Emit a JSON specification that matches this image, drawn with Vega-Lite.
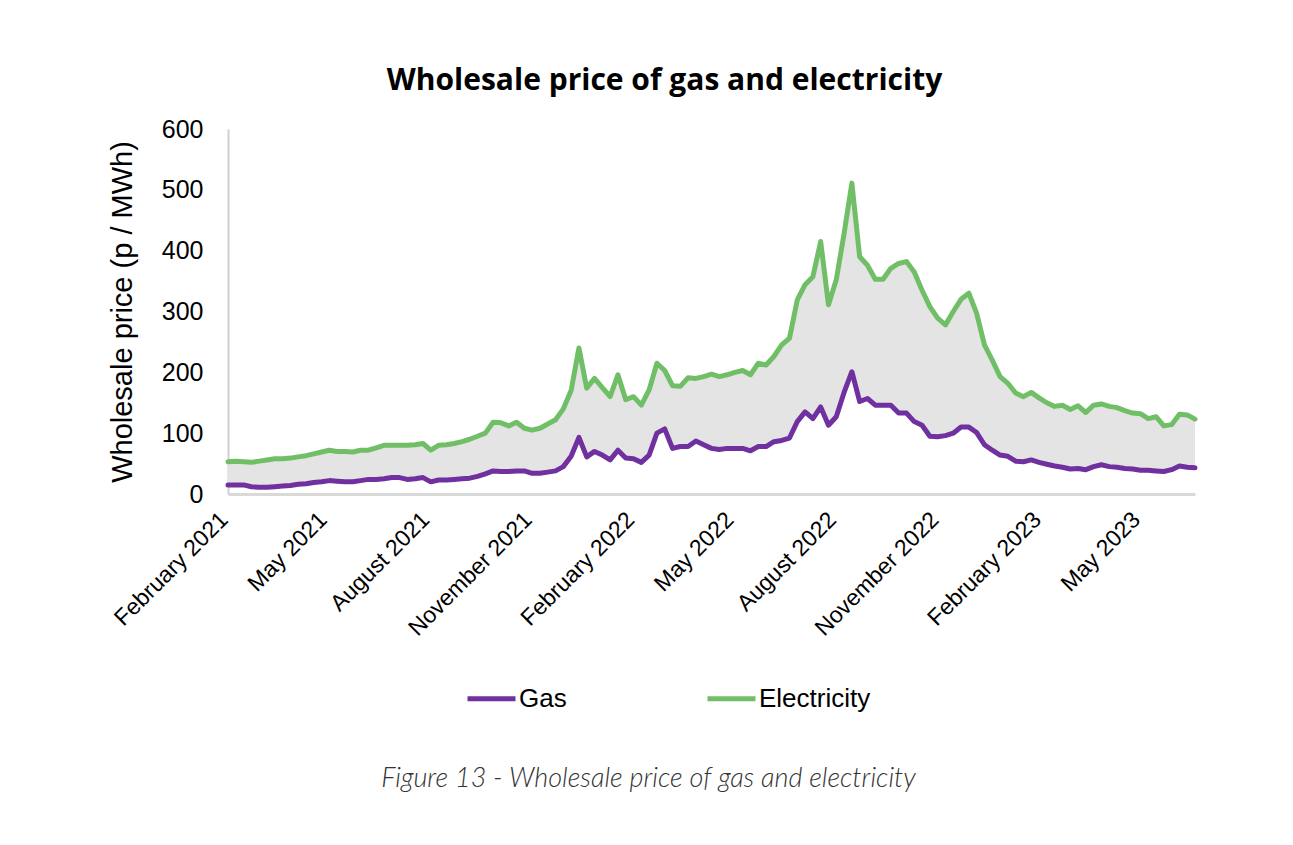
{
  "$schema": "https://vega.github.io/schema/vega-lite/v6.json",
  "width": 967,
  "height": 365,
  "autosize": {"type": "none"},
  "padding": {"left": 228, "top": 129, "right": 98, "bottom": 351},
  "background": "white",
  "title": {
    "text": "Wholesale price of gas and electricity",
    "font": "Open Sans",
    "fontSize": 30,
    "fontWeight": "bold",
    "color": "#000000",
    "anchor": "middle",
    "dx": -47,
    "offset": 21
  },
  "data": {
    "values": [
      {"date":"2021-02-01","Gas":15,"Electricity":53},
      {"date":"2021-02-08","Gas":15,"Electricity":54},
      {"date":"2021-02-15","Gas":15,"Electricity":53},
      {"date":"2021-02-22","Gas":12,"Electricity":52},
      {"date":"2021-03-01","Gas":11,"Electricity":54},
      {"date":"2021-03-08","Gas":11,"Electricity":56},
      {"date":"2021-03-15","Gas":12,"Electricity":58},
      {"date":"2021-03-22","Gas":13,"Electricity":58},
      {"date":"2021-03-29","Gas":14,"Electricity":59},
      {"date":"2021-04-05","Gas":16,"Electricity":61},
      {"date":"2021-04-12","Gas":17,"Electricity":63},
      {"date":"2021-04-19","Gas":19,"Electricity":66},
      {"date":"2021-04-26","Gas":20,"Electricity":69},
      {"date":"2021-05-03","Gas":22,"Electricity":72},
      {"date":"2021-05-10","Gas":21,"Electricity":70},
      {"date":"2021-05-17","Gas":20,"Electricity":70},
      {"date":"2021-05-24","Gas":20,"Electricity":69},
      {"date":"2021-05-31","Gas":22,"Electricity":72},
      {"date":"2021-06-07","Gas":24,"Electricity":72},
      {"date":"2021-06-14","Gas":24,"Electricity":76},
      {"date":"2021-06-21","Gas":25,"Electricity":80},
      {"date":"2021-06-28","Gas":27,"Electricity":80},
      {"date":"2021-07-05","Gas":27,"Electricity":80},
      {"date":"2021-07-12","Gas":24,"Electricity":80},
      {"date":"2021-07-19","Gas":25,"Electricity":81},
      {"date":"2021-07-26","Gas":27,"Electricity":83},
      {"date":"2021-08-02","Gas":20,"Electricity":72},
      {"date":"2021-08-09","Gas":23,"Electricity":80},
      {"date":"2021-08-16","Gas":23,"Electricity":81},
      {"date":"2021-08-23","Gas":24,"Electricity":83},
      {"date":"2021-08-30","Gas":25,"Electricity":86},
      {"date":"2021-09-06","Gas":26,"Electricity":90},
      {"date":"2021-09-13","Gas":29,"Electricity":95},
      {"date":"2021-09-20","Gas":33,"Electricity":100},
      {"date":"2021-09-27","Gas":38,"Electricity":118},
      {"date":"2021-10-04","Gas":37,"Electricity":117},
      {"date":"2021-10-11","Gas":37,"Electricity":112},
      {"date":"2021-10-18","Gas":38,"Electricity":118},
      {"date":"2021-10-25","Gas":38,"Electricity":108},
      {"date":"2021-11-01","Gas":34,"Electricity":105},
      {"date":"2021-11-08","Gas":34,"Electricity":108},
      {"date":"2021-11-15","Gas":36,"Electricity":115},
      {"date":"2021-11-22","Gas":38,"Electricity":122},
      {"date":"2021-11-29","Gas":45,"Electricity":140},
      {"date":"2021-12-06","Gas":62,"Electricity":170},
      {"date":"2021-12-13","Gas":93,"Electricity":240},
      {"date":"2021-12-20","Gas":61,"Electricity":174},
      {"date":"2021-12-27","Gas":70,"Electricity":190},
      {"date":"2022-01-03","Gas":64,"Electricity":175},
      {"date":"2022-01-10","Gas":56,"Electricity":160},
      {"date":"2022-01-17","Gas":72,"Electricity":196},
      {"date":"2022-01-24","Gas":59,"Electricity":155},
      {"date":"2022-01-31","Gas":58,"Electricity":160},
      {"date":"2022-02-07","Gas":52,"Electricity":146},
      {"date":"2022-02-14","Gas":64,"Electricity":171},
      {"date":"2022-02-21","Gas":100,"Electricity":215},
      {"date":"2022-02-28","Gas":107,"Electricity":203},
      {"date":"2022-03-07","Gas":75,"Electricity":178},
      {"date":"2022-03-14","Gas":78,"Electricity":177},
      {"date":"2022-03-21","Gas":78,"Electricity":191},
      {"date":"2022-03-28","Gas":87,"Electricity":190},
      {"date":"2022-04-04","Gas":81,"Electricity":193},
      {"date":"2022-04-11","Gas":75,"Electricity":197},
      {"date":"2022-04-18","Gas":73,"Electricity":193},
      {"date":"2022-04-25","Gas":75,"Electricity":196},
      {"date":"2022-05-02","Gas":75,"Electricity":200},
      {"date":"2022-05-09","Gas":75,"Electricity":203},
      {"date":"2022-05-16","Gas":71,"Electricity":196},
      {"date":"2022-05-23","Gas":78,"Electricity":215},
      {"date":"2022-05-30","Gas":78,"Electricity":212},
      {"date":"2022-06-06","Gas":86,"Electricity":226},
      {"date":"2022-06-13","Gas":88,"Electricity":245},
      {"date":"2022-06-20","Gas":92,"Electricity":256},
      {"date":"2022-06-27","Gas":119,"Electricity":319},
      {"date":"2022-07-04","Gas":135,"Electricity":344},
      {"date":"2022-07-11","Gas":124,"Electricity":357},
      {"date":"2022-07-18","Gas":143,"Electricity":415},
      {"date":"2022-07-25","Gas":113,"Electricity":311},
      {"date":"2022-08-01","Gas":127,"Electricity":352},
      {"date":"2022-08-08","Gas":167,"Electricity":428},
      {"date":"2022-08-15","Gas":201,"Electricity":511},
      {"date":"2022-08-22","Gas":152,"Electricity":390},
      {"date":"2022-08-29","Gas":157,"Electricity":376},
      {"date":"2022-09-05","Gas":146,"Electricity":353},
      {"date":"2022-09-12","Gas":146,"Electricity":353},
      {"date":"2022-09-19","Gas":146,"Electricity":371},
      {"date":"2022-09-26","Gas":133,"Electricity":379},
      {"date":"2022-10-03","Gas":133,"Electricity":382},
      {"date":"2022-10-10","Gas":119,"Electricity":365},
      {"date":"2022-10-17","Gas":113,"Electricity":335},
      {"date":"2022-10-24","Gas":95,"Electricity":308},
      {"date":"2022-10-31","Gas":94,"Electricity":289},
      {"date":"2022-11-07","Gas":96,"Electricity":278},
      {"date":"2022-11-14","Gas":100,"Electricity":300},
      {"date":"2022-11-21","Gas":110,"Electricity":320},
      {"date":"2022-11-28","Gas":110,"Electricity":330},
      {"date":"2022-12-05","Gas":101,"Electricity":297},
      {"date":"2022-12-12","Gas":81,"Electricity":245},
      {"date":"2022-12-19","Gas":72,"Electricity":220},
      {"date":"2022-12-26","Gas":64,"Electricity":193},
      {"date":"2023-01-02","Gas":62,"Electricity":182},
      {"date":"2023-01-09","Gas":54,"Electricity":166},
      {"date":"2023-01-16","Gas":53,"Electricity":160},
      {"date":"2023-01-23","Gas":56,"Electricity":167},
      {"date":"2023-01-30","Gas":52,"Electricity":158},
      {"date":"2023-02-06","Gas":49,"Electricity":150},
      {"date":"2023-02-13","Gas":46,"Electricity":144},
      {"date":"2023-02-20","Gas":44,"Electricity":146},
      {"date":"2023-02-27","Gas":41,"Electricity":139},
      {"date":"2023-03-06","Gas":42,"Electricity":145},
      {"date":"2023-03-13","Gas":40,"Electricity":134},
      {"date":"2023-03-20","Gas":45,"Electricity":146},
      {"date":"2023-03-27","Gas":48,"Electricity":148},
      {"date":"2023-04-03","Gas":45,"Electricity":144},
      {"date":"2023-04-10","Gas":44,"Electricity":142},
      {"date":"2023-04-17","Gas":42,"Electricity":137},
      {"date":"2023-04-24","Gas":41,"Electricity":133},
      {"date":"2023-05-01","Gas":39,"Electricity":132},
      {"date":"2023-05-08","Gas":39,"Electricity":124},
      {"date":"2023-05-15","Gas":38,"Electricity":127},
      {"date":"2023-05-22","Gas":37,"Electricity":112},
      {"date":"2023-05-29","Gas":40,"Electricity":114},
      {"date":"2023-06-05","Gas":46,"Electricity":131},
      {"date":"2023-06-12","Gas":44,"Electricity":130},
      {"date":"2023-06-19","Gas":43,"Electricity":123}
    ]
  },
  "encoding": {
    "x": {
      "field": "date",
      "type": "temporal",
      "scale": {
        "type": "utc",
        "domain": [
          {"year": 2021, "month": 2, "date": 1, "utc": true},
          {"year": 2023, "month": 6, "date": 19, "utc": true}
        ]
      },
      "axis": {
        "values": [
          {"year": 2021, "month": 2, "date": 1, "utc": true},
          {"year": 2021, "month": 5, "date": 1, "utc": true},
          {"year": 2021, "month": 8, "date": 1, "utc": true},
          {"year": 2021, "month": 11, "date": 1, "utc": true},
          {"year": 2022, "month": 2, "date": 1, "utc": true},
          {"year": 2022, "month": 5, "date": 1, "utc": true},
          {"year": 2022, "month": 8, "date": 1, "utc": true},
          {"year": 2022, "month": 11, "date": 1, "utc": true},
          {"year": 2023, "month": 2, "date": 1, "utc": true},
          {"year": 2023, "month": 5, "date": 1, "utc": true}
        ],
        "format": "%B %Y",
        "labelAngle": -45,
        "labelAlign": "right",
        "labelBaseline": "top",
        "labelPadding": 14,
        "labelOffset": -12,
        "labelFont": "Liberation Sans",
        "labelFontSize": 23,
        "labelColor": "#000000",
        "labelOverlap": false,
        "labelFlush": false,
        "ticks": false,
        "tickSize": 0,
        "grid": false,
        "domainColor": "#d9d9d9",
        "domainWidth": 3,
        "title": "Figure 13 - Wholesale price of gas and electricity",
        "titleFont": "Lato",
        "titleFontStyle": "italic",
        "titleFontWeight": 300,
        "titleFontSize": 27,
        "titleColor": "#333333",
        "titleAngle": 0,
        "titleAlign": "center",
        "titleAnchor": "middle",
        "titleBaseline": "middle",
        "titleX": 420,
        "titleY": 284
      }
    }
  },
  "layer": [
    {
      "mark": {"type": "area", "fill": "#e4e4e4", "opacity": 1},
      "encoding": {
        "y": {
          "field": "Gas",
          "type": "quantitative",
          "scale": {"domain": [0, 600], "nice": false},
          "axis": {
            "values": [0, 100, 200, 300, 400, 500, 600],
            "labelFont": "Liberation Sans",
            "labelFontSize": 25,
            "labelColor": "#000000",
            "labelPadding": 25,
            "ticks": false,
            "tickSize": 0,
            "grid": false,
            "domainColor": "#d0d0d0",
            "domainWidth": 2,
            "title": "Wholesale price (p / MWh)",
            "titleFont": "Liberation Sans",
            "titleFontSize": 29,
            "titleFontWeight": "normal",
            "titleColor": "#000000",
            "titlePadding": 24
          }
        },
        "y2": {"field": "Electricity"}
      }
    },
    {
      "transform": [{"fold": ["Gas", "Electricity"], "as": ["series", "price"]}],
      "mark": {"type": "line", "strokeWidth": 5, "strokeJoin": "round", "strokeCap": "round"},
      "encoding": {
        "y": {"field": "price", "type": "quantitative"},
        "color": {
          "field": "series",
          "type": "nominal",
          "scale": {"domain": ["Gas", "Electricity"], "range": ["#7030a0", "#70bf67"]},
          "legend": {
            "orient": "none",
            "legendX": 237,
            "legendY": 543,
            "direction": "horizontal",
            "title": null,
            "symbolType": "stroke",
            "symbolSize": 2304,
            "symbolStrokeWidth": 5,
            "labelFont": "Liberation Sans",
            "labelFontSize": 26,
            "labelColor": "#000000",
            "labelOffset": 1,
            "columnPadding": 130,
            "padding": 0
          }
        }
      }
    }
  ],
  "config": {
    "view": {"stroke": null}
  }
}
